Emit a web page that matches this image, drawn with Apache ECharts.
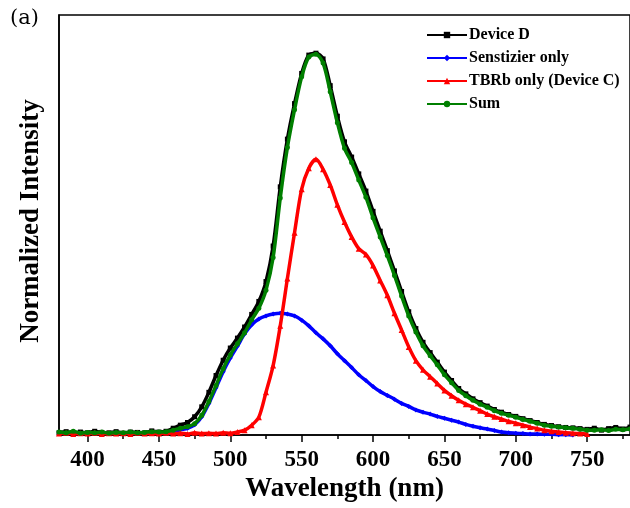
<!DOCTYPE html>
<html>
<head>
<meta charset="utf-8">
<script src="https://cdn.jsdelivr.net/npm/echarts@6/dist/echarts.min.js"></script>
<style>
html,body{margin:0;padding:0;background:#fff;}
#chart{width:630px;height:508px;}
</style>
</head>
<body>
<div id="chart"></div>
<script>
// Wavelength grid (nm)
var wavelengths = [380,385,390,395,400,405,410,415,420,425,430,435,440,445,450,455,460,465,470,475,480,485,490,495,500,505,510,515,520,525,530,535,540,545,550,555,560,565,570,575,580,585,590,595,600,605,610,615,620,625,630,635,640,645,650,655,660,665,670,675,680,685,690,695,700,705,710,715,720,725,730,735,740,745,750,755,760,765,770,775,780];

var deviceD = [0.006,0.009,0.005,0.008,0.006,0.010,0.007,0.006,0.009,0.005,0.008,0.007,0.006,0.011,0.008,0.010,
  0.018,0.026,0.033,0.048,0.074,0.112,0.156,0.196,0.228,0.254,0.283,0.316,0.350,0.402,0.495,0.650,0.775,0.868,0.947,0.995,1.000,0.985,0.915,0.835,0.768,0.728,0.684,0.639,0.586,0.534,0.483,0.430,0.376,0.323,0.279,0.243,0.216,0.191,0.165,0.143,0.122,0.108,0.095,0.085,0.076,0.067,0.060,0.054,0.049,0.043,0.038,0.033,0.028,0.025,0.022,0.020,0.019,0.017,0.015,0.018,0.013,0.017,0.020,0.016,0.021];

var sensitizer = [null,null,null,null,null,null,null,null,null,null,null,null,null,null,null,0.004,
  0.009,0.014,0.018,0.027,0.048,0.083,0.124,0.166,0.202,0.233,0.265,0.289,0.304,0.312,0.317,0.319,0.317,0.312,0.301,0.286,0.268,0.252,0.234,0.213,0.195,0.177,0.158,0.143,0.127,0.114,0.104,0.094,0.083,0.075,0.066,0.060,0.055,0.049,0.044,0.039,0.034,0.028,0.023,0.019,0.016,0.012,0.008,0.006,0.005,0.004,0.003,0.003,0.002,0.002,0.001,0.001,0.000,null,null,null,null,null,null,null,null];

var tbrb = [0.004,0.006,0.003,0.005,0.004,0.006,0.003,0.005,0.004,0.005,0.003,0.006,0.004,0.005,0.004,0.006,0.004,0.005,0.003,0.006,0.004,0.005,0.004,0.006,0.005,
  0.008,0.013,0.026,0.047,0.112,0.182,0.286,0.410,0.530,0.644,0.699,0.722,0.696,0.655,0.603,0.558,0.519,0.488,0.473,0.444,0.405,0.366,0.319,0.275,0.231,0.195,0.171,0.153,0.135,0.117,0.103,0.091,0.081,0.073,0.064,0.055,0.048,0.042,0.036,0.031,0.026,0.021,0.017,0.013,0.010,0.008,0.006,0.005,0.004,0.003,null,null,null,null,null,null];

var sum = [0.008,0.006,0.010,0.005,0.007,0.006,0.008,0.005,0.007,0.006,0.008,0.006,0.007,0.009,0.008,0.009,
  0.013,0.018,0.022,0.030,0.052,0.088,0.130,0.174,0.210,0.239,0.268,0.302,0.332,0.379,0.465,0.621,0.753,0.852,0.938,0.990,0.997,0.974,0.899,0.818,0.751,0.714,0.668,0.623,0.569,0.519,0.470,0.418,0.364,0.312,0.270,0.234,0.208,0.184,0.158,0.137,0.117,0.103,0.091,0.081,0.073,0.064,0.057,0.052,0.047,0.041,0.036,0.031,0.026,0.023,0.021,0.019,0.018,0.015,0.013,0.013,0.014,0.012,0.015,0.014,0.016];

var majorTicks = [400,450,500,550,600,650,700,750];
var minorTicks = [425,475,525,575,625,675,725,775];

var seriesNames = ['Device D','Senstizier only','TBRb only (Device C)','Sum'];
var seriesColors = ['#000000','#0000ff','#ff0000','#007f00'];
var seriesSymbols = ['rect','diamond','triangle','circle'];
var seriesData = [deviceD, sensitizer, tbrb, sum];

function pairs(arr){
  var out = [];
  for (var i = 0; i < wavelengths.length; i++) {
    if (arr[i] !== null) out.push([wavelengths[i], arr[i]]);
  }
  return out;
}

var FONT = '"Liberation Serif","Times New Roman",serif';

var series = seriesNames.map(function(n, k){
  return {
    type: 'line',
    name: n,
    data: pairs(seriesData[k]),
    smooth: 0.3,
    symbol: seriesSymbols[k],
    symbolSize: seriesSymbols[k] === 'triangle' ? 6 : 5,
    showSymbol: true,
    lineStyle: {color: seriesColors[k], width: 3.5},
    itemStyle: {color: seriesColors[k]},
    z: 2 + k
  };
});

var chart = echarts.init(document.getElementById('chart'), null, {renderer: 'canvas'});
chart.setOption({
  animation: false,
  backgroundColor: '#ffffff',
  grid: {left: 59, top: 15, right: -4, bottom: 70, show: true, borderColor: '#000', borderWidth: 1.5, backgroundColor: 'transparent'},
  legend: {
    orient: 'vertical',
    left: 421,
    top: 22,
    itemWidth: 40,
    itemHeight: 8,
    itemGap: 7,
    data: seriesNames,
    textStyle: {fontFamily: FONT, fontWeight: 'bold', fontSize: 16, color: '#000', padding: [0,0,0,-3]}
  },
  xAxis: [{
    type: 'value',
    min: 380,
    max: 780,
    name: 'Wavelength (nm)',
    nameLocation: 'middle',
    nameGap: 38,
    nameTextStyle: {fontFamily: FONT, fontWeight: 'bold', fontSize: 27, color: '#000'},
    axisLine: {show: true, onZero: false, lineStyle: {color: '#000', width: 1.5}},
    axisTick: {show: true, inside: false, length: 7, customValues: majorTicks, lineStyle: {color: '#000', width: 1.5}},
    axisLabel: {customValues: majorTicks, margin: 13, fontFamily: FONT, fontWeight: 'bold', fontSize: 23, color: '#000'},
    splitLine: {show: false}
  }, {
    type: 'value',
    min: 380,
    max: 780,
    position: 'bottom',
    gridIndex: 0,
    axisLine: {show: false},
    axisTick: {show: true, inside: false, length: 4, customValues: minorTicks, lineStyle: {color: '#000', width: 1.5}},
    axisLabel: {show: false},
    splitLine: {show: false}
  }],
  yAxis: {
    type: 'value',
    min: 0,
    max: 1.1,
    axisLine: {show: true, lineStyle: {color: '#000', width: 1.5}},
    axisTick: {show: false},
    axisLabel: {show: false},
    splitLine: {show: false}
  },
  graphic: [{
    type: 'text',
    left: 10,
    top: 8,
    style: {text: '(a)', fontFamily: '"DejaVu Serif",serif', fontSize: 21, fill: '#000'}
  }, {
    type: 'text',
    x: 31,
    y: 221,
    rotation: Math.PI / 2,
    style: {text: 'Normalized Intensity', fontFamily: FONT, fontWeight: 'bold', fontSize: 27, fill: '#000', align: 'center', verticalAlign: 'middle'}
  }],
  series: series
});
</script>
</body>
</html>
